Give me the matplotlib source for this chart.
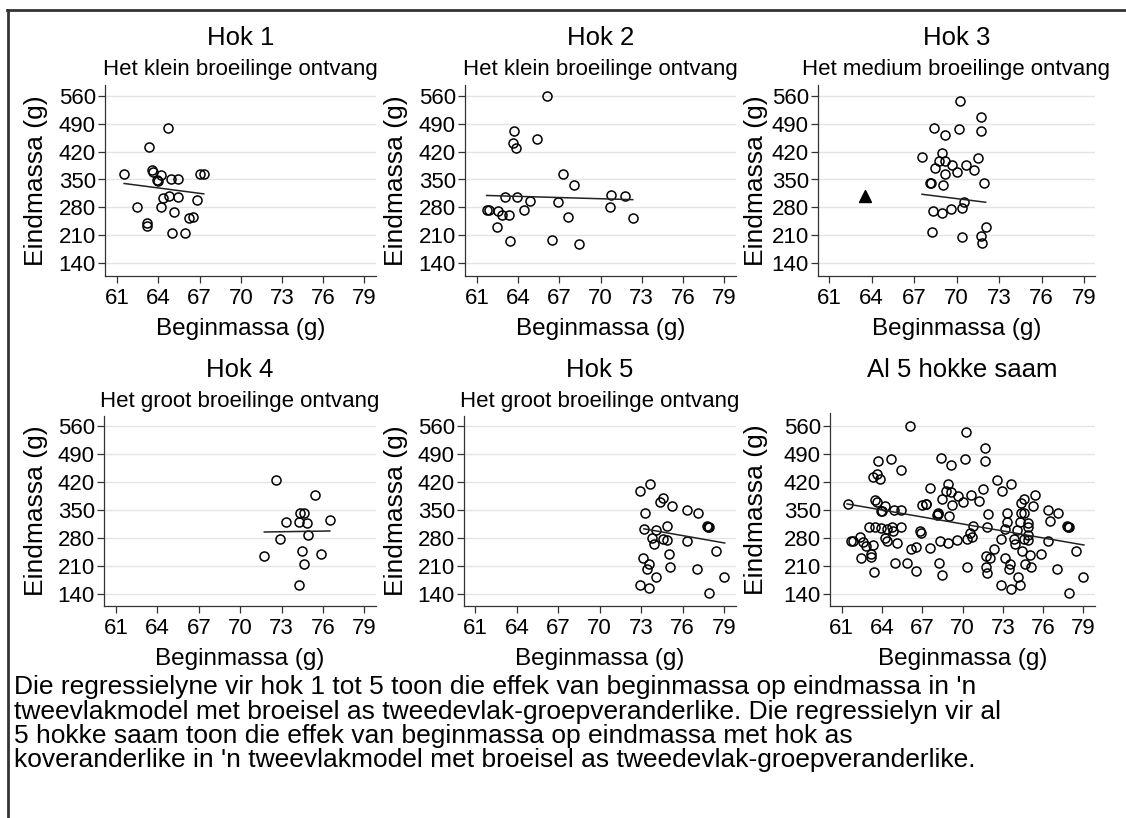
import matplotlib
matplotlib.use('Agg')
import matplotlib.pyplot as plt
from matplotlib.lines import Line2D

plt.rcParams['font.family'] = ['Liberation Sans', 'DejaVu Sans']

# beginmassa / eindmassa per hok (g)
hok1_x = [61.5, 62.4, 63.3, 64.7, 63.5, 63.6, 63.9, 64.0, 64.2, 64.9, 65.4, 67.0, 67.3,
          64.35, 64.75, 65.45, 66.8, 64.2, 65.1, 66.2, 66.5, 63.15, 63.2, 65.0, 65.9]
hok1_y = [365, 282, 432, 478, 375, 370, 349, 347, 361, 351, 351, 364, 365,
          303, 309, 307, 299, 280, 269, 253, 257, 240, 234, 217, 217]

hok2_x = [66.1, 63.7, 63.65, 63.85, 65.4, 67.25, 68.1, 63.05, 63.95, 64.85, 66.9, 70.75, 71.8,
          70.7, 61.7, 61.85, 62.55, 62.8, 63.3, 64.4, 67.6, 72.35, 62.45, 63.4, 66.5, 68.45]
hok2_y = [560, 472, 441, 428, 451, 365, 337, 307, 305, 297, 293, 310, 308,
          282, 274, 274, 271, 261, 262, 274, 255, 253, 231, 196, 199, 189]

hok3_x = [70.25, 71.7, 68.4, 69.15, 70.2, 71.7, 67.55, 68.95, 68.75, 69.15, 69.7, 70.65, 71.5,
          68.45, 69.2, 70.0, 71.25, 68.15, 68.2, 69.0, 71.9, 70.55, 68.3, 68.95, 69.6, 70.35,
          68.25, 70.35, 72.05, 71.75, 71.8]
hok3_y = [546, 506, 480, 462, 477, 472, 406, 416, 397, 396, 386, 387, 404,
          379, 364, 370, 373, 342, 340, 335, 341, 294, 272, 267, 276, 279,
          218, 207, 231, 209, 192]
# uitskieter in hok 3
hok3_out_x = [63.5]
hok3_out_y = [309]

hok4_x = [72.6, 75.4, 74.35, 74.6, 73.35, 74.25, 74.85, 76.5, 74.9, 72.9, 71.75, 74.45, 75.85,
          74.65, 74.25]
hok4_y = [424, 388, 343, 343, 321, 321, 317, 324, 288, 278, 235, 248, 241, 215, 163]

hok5_x = [73.65, 72.95, 74.6, 74.35, 75.25, 73.3, 76.35, 77.15, 77.75, 77.85, 77.9, 73.2, 74.05,
          74.9, 73.8, 74.55, 74.9, 73.9, 76.35, 78.45, 75.0, 73.15, 73.55, 73.45, 75.1, 77.05,
          74.1, 79.0, 72.9, 73.6, 77.95]
hok5_y = [415, 398, 379, 369, 361, 342, 350, 343, 311, 308, 307, 302, 300,
          309, 279, 277, 276, 265, 272, 248, 239, 231, 216, 203, 208, 202,
          183, 183, 162, 154, 142]

# regressielyne (begin- en eindpunt)
reg1 = ([61.5, 67.3], [340, 314])
reg2 = ([61.7, 72.35], [310, 299.5])
reg3 = ([67.55, 72.05], [313, 293])
reg4 = ([71.75, 76.5], [295, 297.5])
reg5 = ([73.2, 79.05], [303, 267.5])
reg_all = ([61.4, 79.05], [365.5, 263])

all_x = hok1_x + hok2_x + hok3_x + hok3_out_x + hok4_x + hok5_x
all_y = hok1_y + hok2_y + hok3_y + hok3_out_y + hok4_y + hok5_y

titles = ['Hok 1', 'Hok 2', 'Hok 3', 'Hok 4', 'Hok 5', 'Al 5 hokke saam']
subtitles = ['Het klein broeilinge ontvang', 'Het klein broeilinge ontvang',
             'Het medium broeilinge ontvang', 'Het groot broeilinge ontvang',
             'Het groot broeilinge ontvang', '']
xticks = [61, 64, 67, 70, 73, 76, 79]
yticks = [140, 210, 280, 350, 420, 490, 560]

caption_lines = [
    "Die regressielyne vir hok 1 tot 5 toon die effek van beginmassa op eindmassa in 'n",
    "tweevlakmodel met broeisel as tweedevlak-groepveranderlike. Die regressielyn vir al",
    "5 hokke saam toon die effek van beginmassa op eindmassa met hok as",
    "koveranderlike in 'n tweevlakmodel met broeisel as tweedevlak-groepveranderlike.",
]

W, H = 1126, 818
fig = plt.figure(figsize=(W / 100, H / 100), dpi=100)


def fx(px):
    return px / W


def fy(py):
    return 1 - py / H


# panel layout in pixels: left, right, top, bottom, x61, x79, y560, y140, ylabel offset
panels = [
    (105, 376, 85, 276, 117.3, 364.3, 95.7, 263.3, -62),
    (465, 736, 85, 276, 477.0, 724.0, 95.7, 263.3, -62),
    (818, 1095, 85, 276, 829.3, 1084.0, 95.7, 263.3, -55),
    (104, 376, 416, 606, 116.0, 364.3, 426.0, 594.0, -61),
    (464, 736, 416, 606, 475.3, 724.0, 426.0, 594.0, -61),
    (830, 1095, 413, 606, 841.7, 1083.3, 426.0, 594.3, -67),
]

data = [(hok1_x, hok1_y, reg1), (hok2_x, hok2_y, reg2), (hok3_x, hok3_y, reg3),
        (hok4_x, hok4_y, reg4), (hok5_x, hok5_y, reg5), (all_x, all_y, reg_all)]

for i, (l, r, t, b, x61, x79, y560, y140, yoff) in enumerate(panels):
    ax = fig.add_axes([fx(l), fy(b), (r - l) / W, (b - t) / H])
    sx = (x79 - x61) / 18
    sy = (y140 - y560) / 420
    ax.set_xlim(61 - (x61 - l) / sx, 79 + (r - x79) / sx)
    ax.set_ylim(140 - (b - y140) / sy, 560 + (y560 - t) / sy)

    xs, ys, reg = data[i]
    ax.plot(xs, ys, 'o', ms=6.5, mfc='none', mec='black', mew=1.1, zorder=3)
    if i == 2:
        ax.plot(hok3_out_x, hok3_out_y, '^', ms=8, color='black', zorder=3)
    ax.plot(reg[0], reg[1], color='#222222', lw=1.1, zorder=4)

    ax.set_xticks(xticks)
    ax.set_yticks(yticks)
    ax.grid(axis='y', color='#e4e4e4', lw=1.0)
    ax.set_axisbelow(True)
    for s in ['top', 'right']:
        ax.spines[s].set_visible(False)
    for s in ['left', 'bottom']:
        ax.spines[s].set_color('#333333')
        ax.spines[s].set_linewidth(0.9)
    ax.tick_params(axis='x', length=5, width=0.9, color='#333333', labelsize=16, pad=4)
    ax.tick_params(axis='y', length=5, width=0.9, color='#333333', labelsize=16, pad=1.5)

    ax.set_xlabel('Beginmassa (g)', fontsize=17.5, va='baseline')
    ax.xaxis.set_label_coords(0.5, -59.3 / (b - t))
    ax.set_ylabel('Eindmassa (g)', fontsize=19, va='baseline')
    ax.yaxis.set_label_coords(yoff / (r - l), 0.5)

    cx = fx((l + r) / 2)
    if i < 3:
        fig.text(cx, fy(45.3), titles[i], fontsize=18.5, ha='center', va='baseline')
        fig.text(cx, fy(75.3), subtitles[i], fontsize=16, ha='center', va='baseline')
    elif subtitles[i]:
        fig.text(cx, fy(376.7), titles[i], fontsize=18.5, ha='center', va='baseline')
        fig.text(cx, fy(407.3), subtitles[i], fontsize=16, ha='center', va='baseline')
    else:
        fig.text(cx, fy(376.7), titles[i], fontsize=18.5, ha='center', va='baseline')

for k, line in enumerate(caption_lines):
    fig.text(fx(13.5), fy(694.3 + k * 24.3), line, fontsize=19, ha='left', va='baseline')

# rand bo en links
fig.add_artist(Line2D([fx(8), fx(8)], [fy(9.5), 0], color='#333333', lw=2.0))
fig.add_artist(Line2D([fx(7), 1], [fy(9.5), fy(9.5)], color='#333333', lw=2.0))

fig.savefig('out.png', dpi=100)
